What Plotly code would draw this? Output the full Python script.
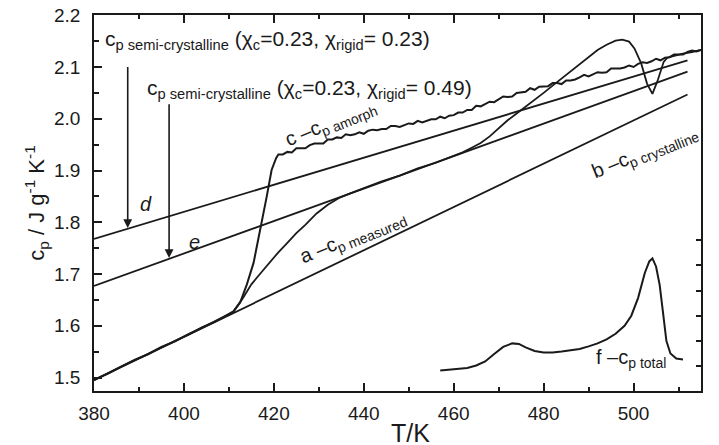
import plotly.graph_objects as go

# ---------------- data ----------------
# straight reference lines (end points)
line_b_T = [380, 512]
line_b_cp = [1.495, 2.047]      # b - cp crystalline
line_d_T = [380, 512]
line_d_cp = [1.768, 2.113]      # d - cp semi-crystalline (rigid 0.23)
line_e_T = [380, 512]
line_e_cp = [1.677, 2.091]      # e - cp semi-crystalline (rigid 0.49)

# c - cp amorph
amorph_T = [380, 383, 386, 389, 392, 395, 398, 401, 404, 407, 409, 411, 412.5, 414, 415.5, 417,
            418.4, 419.5, 420.5,
            421, 422, 423, 424, 425, 426, 427, 428, 429, 430, 431, 432, 433, 434, 435, 436, 437, 438, 439, 440,
            441, 442, 443, 444, 445, 446, 447, 448, 449, 450, 451, 452, 453, 454, 455, 456, 457, 458, 459, 460,
            461, 462, 463, 464, 465, 466, 467, 468, 469, 470, 471, 472, 473, 474, 475, 476, 477, 478, 479, 480,
            481, 482, 483, 484, 485, 486, 487, 488, 489, 490, 491, 492, 493, 494, 495, 496, 497, 498, 499, 500,
            501, 502, 503, 504, 505, 506, 507, 508, 509, 510, 511, 512, 513, 514, 515]
amorph_cp = [1.495, 1.508, 1.520, 1.534, 1.545, 1.559, 1.570, 1.584, 1.596, 1.609, 1.617, 1.627, 1.645, 1.680, 1.722, 1.785,
             1.849, 1.901, 1.924,
             1.931, 1.931, 1.936, 1.935, 1.943, 1.943, 1.943, 1.949, 1.952, 1.952, 1.952, 1.960, 1.960, 1.964, 1.963, 1.970, 1.968, 1.970, 1.974, 1.971,
             1.977, 1.979, 1.978, 1.980, 1.980, 1.986, 1.986, 1.984, 1.988, 1.991, 1.990, 1.996, 1.993, 1.996, 1.999, 1.999, 2.004, 2.001, 2.006, 2.007,
             2.012, 2.012, 2.017, 2.017, 2.025, 2.024, 2.028, 2.033, 2.032, 2.038, 2.043, 2.042, 2.043, 2.050, 2.051, 2.052, 2.059, 2.056, 2.062, 2.063,
             2.063, 2.069, 2.069, 2.067, 2.074, 2.074, 2.076, 2.080, 2.085, 2.082, 2.086, 2.090, 2.089, 2.090, 2.097, 2.097, 2.097, 2.099, 2.103, 2.100,
             2.106, 2.109, 2.108, 2.111, 2.116, 2.113, 2.118, 2.119, 2.124, 2.124, 2.124, 2.129, 2.132, 2.130, 2.133]

# a - cp measured
meas_T = [380, 383, 386, 389, 392, 395, 398, 401, 404, 407, 409, 411, 413, 415, 417, 419, 421, 423,
          425, 427, 429.5, 432, 434.5, 437, 440, 444, 448, 452, 456, 460, 462, 464, 466, 468,
          470, 472, 474, 476, 478, 480, 482, 484, 486, 488, 490, 492, 494, 496, 497.5, 499,
          500.2, 501.7, 503, 504.2, 505.4, 506.7, 507.5, 509, 511, 513, 515]
meas_cp = [1.496, 1.507, 1.521, 1.533, 1.546, 1.558, 1.571, 1.583, 1.597, 1.608, 1.618, 1.628, 1.652, 1.680, 1.701, 1.722, 1.742, 1.760,
           1.779, 1.795, 1.817, 1.834, 1.847, 1.856, 1.866, 1.879, 1.890, 1.904, 1.915, 1.929, 1.935, 1.944, 1.953, 1.966,
           1.981, 1.997, 2.010, 2.023, 2.036, 2.050, 2.064, 2.078, 2.092, 2.105, 2.120, 2.133, 2.143, 2.151, 2.153, 2.149,
           2.136, 2.107, 2.068, 2.048, 2.075, 2.110, 2.118, 2.122, 2.126, 2.129, 2.133]

# f - cp total (right axis)
total_T = [457, 460, 463, 465, 467, 469, 471, 473, 474.5, 476, 478, 480, 482, 484, 486, 488, 490, 492,
           494, 496, 498, 499.5, 501, 502.5, 503.5, 504.2, 505, 505.8, 506.5, 507.3, 508.2, 509.5, 511]
total_v = [1.91, 1.93, 1.96, 2.01, 2.09, 2.24, 2.38, 2.45, 2.44, 2.37, 2.30, 2.27, 2.27, 2.29, 2.31, 2.34, 2.39, 2.45,
           2.53, 2.64, 2.80, 3.00, 3.35, 3.85, 4.08, 4.14, 3.98, 3.62, 3.10, 2.50, 2.25, 2.15, 2.13]

x_ticks = [380, 400, 420, 440, 460, 480, 500]
y_ticks = [1.5, 1.6, 1.7, 1.8, 1.9, 2.0, 2.1, 2.2]
y2_ticks = [2, 2.5, 3, 3.5, 4, 4.5]
y2_text = ["2", "", "3", "", "4", ""]

# arrows: (T, cp_tail, cp_head)
arrow_d = (387.5, 2.103, 1.789)
arrow_e = (396.7, 2.031, 1.731)

INK = "#1a1a1a"
FONT = "Liberation Sans, Arial, Helvetica, sans-serif"

fig = go.Figure()
for T, cp in [(line_b_T, line_b_cp), (line_d_T, line_d_cp), (line_e_T, line_e_cp)]:
    fig.add_trace(go.Scatter(x=T, y=cp, mode="lines", line=dict(color=INK, width=1.8),
                             showlegend=False, hoverinfo="skip"))
fig.add_trace(go.Scatter(x=amorph_T, y=amorph_cp, mode="lines", line=dict(color=INK, width=2),
                         showlegend=False))
fig.add_trace(go.Scatter(x=meas_T, y=meas_cp, mode="lines", line=dict(color=INK, width=1.8),
                         showlegend=False))
fig.add_trace(go.Scatter(x=total_T, y=total_v, mode="lines", line=dict(color=INK, width=2),
                         showlegend=False, yaxis="y2"))

ann = []
for (T, y0, y1) in [arrow_d, arrow_e]:
    ann.append(dict(x=T, y=y1, ax=T, ay=y0, xref="x", yref="y", axref="x", ayref="y",
                    text="", showarrow=True, arrowhead=2, arrowsize=1.1, arrowwidth=1.6,
                    arrowcolor=INK))

def txt(x, y, t, size, angle=0, xanchor="center"):
    ann.append(dict(x=x, y=y, xref="x", yref="y", text=t, showarrow=False, textangle=angle,
                    xanchor=xanchor, yanchor="middle", font=dict(family=FONT, size=size, color=INK)))

txt(382, 2.153, "c<sub>p semi-crystalline</sub> (χ<sub>c</sub>=0.23, χ<sub>rigid</sub>= 0.23)", 21, xanchor="left")
txt(391.3, 2.058, "c<sub>p semi-crystalline</sub> (χ<sub>c</sub>=0.23, χ<sub>rigid</sub>= 0.49)", 21, xanchor="left")
txt(432.7, 1.990, "c –c<sub>p amorph</sub>", 20, angle=-22)
txt(437.5, 1.771, "a –c<sub>p measured</sub>", 20, angle=-22)
txt(502.5, 1.935, "b –c<sub>p crystalline</sub>", 20, angle=-22)
txt(499.5, 1.536, "f –c<sub>p total</sub>", 20)
txt(391.5, 1.835, "<i>d</i>", 20)
txt(402.4, 1.761, "<i>e</i>", 20)

ann.append(dict(x=-0.096, y=0.50, xref="paper", yref="paper", showarrow=False, textangle=-90,
                text="c<sub>p</sub> / J g<sup>-1</sup> K<sup>-1</sup>", xanchor="center", yanchor="middle",
                font=dict(family=FONT, size=22, color=INK)))
ann.append(dict(x=450.5, y=-0.112, xref="x", yref="paper", showarrow=False, text="T/K",
                xanchor="center", yanchor="middle", font=dict(family=FONT, size=25, color=INK)))

# the page body adds an 8 px offset, so the figure is sized to fit inside the window
fig.update_layout(
    width=711, height=437, autosize=False,
    margin=dict(l=86, r=18, t=7, b=54, autoexpand=False),
    paper_bgcolor="white", plot_bgcolor="white",
    font=dict(family=FONT, size=19, color=INK),
    annotations=ann,
    xaxis=dict(range=[380, 515], tickvals=x_ticks, ticks="inside", ticklen=8, tickwidth=1.5,
               tickcolor=INK, showline=True, linecolor=INK, linewidth=1.6, mirror="ticks",
               showgrid=False, zeroline=False, ticklabelstandoff=4, ticklabeloverflow="allow",
               automargin=False,
               minor=dict(dtick=10, tick0=380, ticks="inside", ticklen=4, tickwidth=1.5, tickcolor=INK, showgrid=False),
               tickfont=dict(size=19)),
    yaxis=dict(range=[1.474, 2.2005], tickvals=y_ticks, tickformat=".1f", ticks="inside", ticklen=8,
               tickwidth=1.5, tickcolor=INK, showline=True, linecolor=INK, linewidth=1.6, mirror=True,
               showgrid=False, zeroline=False, ticklabelstandoff=8, ticklabeloverflow="allow",
               automargin=False,
               minor=dict(dtick=0.05, tick0=1.5, ticks="inside", ticklen=5, tickwidth=1.5, tickcolor=INK, showgrid=False),
               tickfont=dict(size=19)),
    yaxis2=dict(range=[1.503, 8.98], overlaying="y", side="right", tickvals=y2_ticks, ticktext=y2_text,
                ticks="inside", ticklen=5, tickwidth=1.5, tickcolor=INK, showline=False, showgrid=False,
                zeroline=False, ticklabelstandoff=9, ticklabeloverflow="allow", automargin=False,
                tickfont=dict(size=19)),
)

fig.write_html("out.html")
